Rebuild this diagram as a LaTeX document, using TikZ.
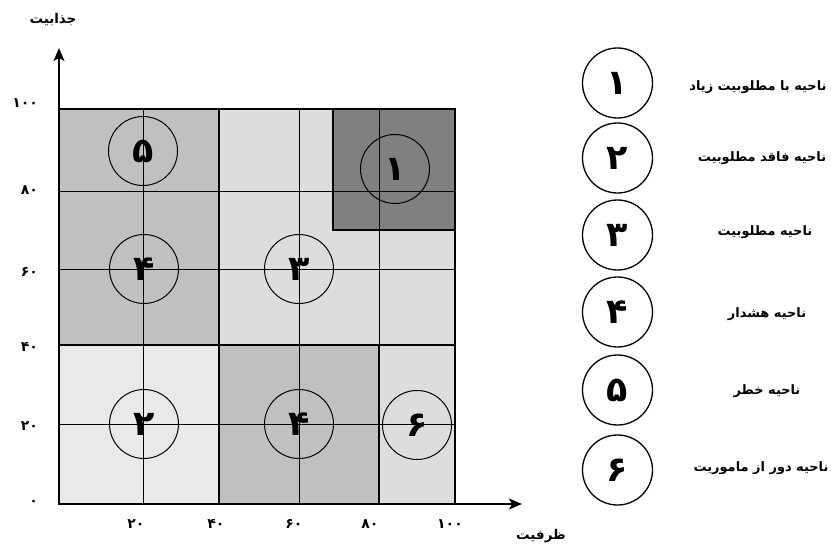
\documentclass[tikz,border=0pt]{standalone}
\usepackage{fontspec}
\newfontfamily\fa[Script=Arabic]{DejaVu Sans}
\TeXXeTstate=1
\usetikzlibrary{arrows.meta}
\definecolor{gdark}{HTML}{808080}
\definecolor{gmid}{HTML}{C0C0C0}
\definecolor{glight}{HTML}{DDDDDD}
\definecolor{gpale}{HTML}{E9E9E9}
\tikzset{
  thinln/.style={line width=0.6bp, black},
  thickln/.style={line width=1.6bp, black},
  axisln/.style={line width=1.4bp, black, -{Stealth[length=13bp,width=11bp,inset=3bp]}},
  zone/.style={circle, draw, line width=1bp, minimum size=69bp, inner sep=0pt,
    font=\fa\bfseries\fontsize{35}{35}\selectfont},
  legc/.style={circle, draw, line width=1.3bp, minimum size=70bp, inner sep=0pt,
    font=\fa\bfseries\fontsize{35}{35}\selectfont},
  legt/.style={inner sep=0pt, font=\fa\bfseries\fontsize{13}{15}\selectfont},
  tick/.style={inner sep=0pt, font=\fa\bfseries\fontsize{14}{15}\selectfont},
  axt/.style={inner sep=0pt, font=\fa\bfseries\fontsize{13.5}{15}\selectfont}
}
\begin{document}
\begin{tikzpicture}[x=1bp,y=-1bp]
\useasboundingbox (0,0) rectangle (831,547);
% fills
\fill[gmid]   (59,109) rectangle (219,345);
\fill[glight] (219,109) rectangle (455,345);
\fill[gdark]  (333,109) rectangle (455,230);
\fill[gpale]  (59,345) rectangle (219,504);
\fill[gmid]   (219,345) rectangle (379,504);
\fill[glight] (379,345) rectangle (455,504);
% thin grid
\foreach \x in {143,299,379} \draw[thinln] (\x,109) -- (\x,504);
\foreach \y in {191,269,424} \draw[thinln] (59,\y) -- (455,\y);
% thick borders
\draw[thickln] (333,109) rectangle (455,230);
\draw[thickln] (219,109) -- (219,504);
\draw[thickln] (59,345) -- (455,345);
\draw[thickln] (379,345) -- (379,504);
\draw[thickln] (59,109) rectangle (455,504);
% axes
\coordinate (O) at (59,504);
\coordinate (ytip) at (59,48);
\coordinate (xtip) at (522,504);
\draw[axisln] (O) -- (ytip);
\draw[axisln] (O) -- (xtip);
\node[axt] (ylab) at (53,20) {\beginR جذابیت\endR};
\node[axt] (xlab) at (541,536) {\beginR ظرفیت\endR};
% ticks
\node[tick] (tx20) at (136,524) {۲۰};
\node[tick] (tx40) at (216,524) {۴۰};
\node[tick] (tx60) at (294,524) {۶۰};
\node[tick] (tx80) at (370,524) {۸۰};
\node[tick] (tx100) at (450,524) {۱۰۰};
\node[tick,anchor=east] (ty100) at (38,103) {۱۰۰};
\node[tick,anchor=east] (ty80) at (38,190) {۸۰};
\node[tick,anchor=east] (ty60) at (38,272) {۶۰};
\node[tick,anchor=east] (ty40) at (38,347) {۴۰};
\node[tick,anchor=east] (ty20) at (38,426) {۲۰};
\node[tick,anchor=east] (ty0) at (38,503) {۰};
% zone circles
\node[zone] (z5) at (143,151) {۵};
\node[zone] (z4a) at (144,269) {۴};
\node[zone] (z3) at (299,269) {۳};
\node[zone] (z1) at (395,169) {۱};
\node[zone] (z2) at (144,424) {۲};
\node[zone] (z4b) at (299,424) {۴};
\node[zone] (z6) at (417,425) {۶};
% legend
\node[legc] (l1) at (617.5,83) {۱};
\node[legc] (l2) at (617.5,158) {۲};
\node[legc] (l3) at (617.5,235) {۳};
\node[legc] (l4) at (617.5,312) {۴};
\node[legc] (l5) at (617.5,390) {۵};
\node[legc] (l6) at (617.5,470) {۶};
\node[legt] (t1) at (758,87) {\beginR ناحیه با مطلوبیت زیاد\endR};
\node[legt] (t2) at (762,158) {\beginR ناحیه فاقد مطلوبیت\endR};
\node[legt] (t3) at (765,232) {\beginR ناحیه مطلوبیت\endR};
\node[legt] (t4) at (767,314) {\beginR ناحیه هشدار\endR};
\node[legt] (t5) at (767,391) {\beginR ناحیه خطر\endR};
\node[legt] (t6) at (761,468) {\beginR ناحیه دور از ماموریت\endR};
\end{tikzpicture}
\end{document}
